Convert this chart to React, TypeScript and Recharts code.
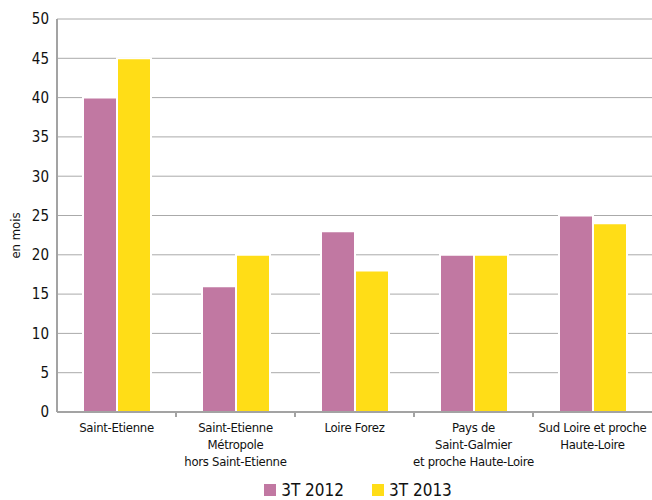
import { BarChart, Bar, CartesianGrid, XAxis, YAxis, Legend } from 'recharts'

const territories = [
  'Saint-Etienne',
  'Saint-Etienne\nMétropole\nhors Saint-Etienne',
  'Loire Forez',
  'Pays de\nSaint-Galmier\net proche Haute-Loire',
  'Sud Loire et proche\nHaute-Loire',
]
const t2012 = [40, 16, 23, 20, 25]
const t2013 = [45, 20, 18, 20, 24]
const yTicks = [0, 5, 10, 15, 20, 25, 30, 35, 40, 45, 50]

const data = territories.map((name, i) => ({ name, t2012: t2012[i], t2013: t2013[i] }))

const FONT = '"DejaVu Sans Condensed", "Liberation Sans Narrow", sans-serif'
const AXIS = '#a3a3a3'
const PINK = '#c178a2'
const YELLOW = '#ffdd17'

function CategoryTick(props: any) {
  const { x, y, payload, index, width } = props
  const lines = String(payload.value).split('\n')
  const half = width / territories.length / 2
  return (
    <g>
      {index < territories.length - 1 && (
        <line x1={x + half} x2={x + half} y1={y - 8} y2={y - 3} stroke={AXIS} strokeWidth={2} />
      )}
      <text x={x} y={y + 12} textAnchor="middle" fontSize={13} letterSpacing={-0.3} fill="#111" fontFamily={FONT}>
        {lines.map((l, i) => (
          <tspan key={i} x={x} dy={i === 0 ? 0 : 17}>
            {l}
          </tspan>
        ))}
      </text>
    </g>
  )
}

function LegendContent(props: any) {
  const items = props.payload || []
  return (
    <div
      style={{
        display: 'flex',
        justifyContent: 'center',
        paddingLeft: 64,
        paddingTop: 6,
        fontFamily: FONT,
        fontSize: 17,
        color: '#111',
      }}
    >
      {items.map((it: any, i: number) => (
        <span key={i} style={{ display: 'flex', alignItems: 'center', marginRight: i === 0 ? 28 : 0 }}>
          <span style={{ display: 'inline-block', width: 12, height: 12, background: it.color, marginRight: 5 }} />
          {it.value}
        </span>
      ))}
    </div>
  )
}

export default function App() {
  return (
    <div style={{ position: 'absolute', left: 0, top: 0, background: '#fff' }}>
      <BarChart
        width={652}
        height={500}
        data={data}
        margin={{ top: 19, right: 0, left: 0, bottom: 0 }}
        barGap={0}
        barSize={34}
        style={{ fontFamily: FONT }}
      >
        <CartesianGrid vertical={false} stroke="#aaa" strokeWidth={1} />
        <XAxis
          dataKey="name"
          interval={0}
          height={62}
          tickLine={false}
          axisLine={{ stroke: AXIS, strokeWidth: 2 }}
          tick={<CategoryTick />}
        />
        <YAxis
          width={57}
          domain={[0, 50]}
          ticks={yTicks}
          interval={0}
          tickLine={false}
          axisLine={{ stroke: AXIS, strokeWidth: 2 }}
          tick={{ fill: '#111', fontSize: 15, fontFamily: FONT }}
          label={{
            value: 'en mois',
            angle: -90,
            position: 'insideLeft',
            dx: 10,
            dy: 20,
            style: { fill: '#111', fontSize: 13, fontFamily: FONT, textAnchor: 'middle' },
          }}
        />
        <Legend height={26} content={<LegendContent />} />
        <Bar dataKey="t2012" name="3T 2012" fill={PINK} stroke="#fff" strokeWidth={2} isAnimationActive={false} />
        <Bar dataKey="t2013" name="3T 2013" fill={YELLOW} stroke="#fff" strokeWidth={2} isAnimationActive={false} />
      </BarChart>
    </div>
  )
}
